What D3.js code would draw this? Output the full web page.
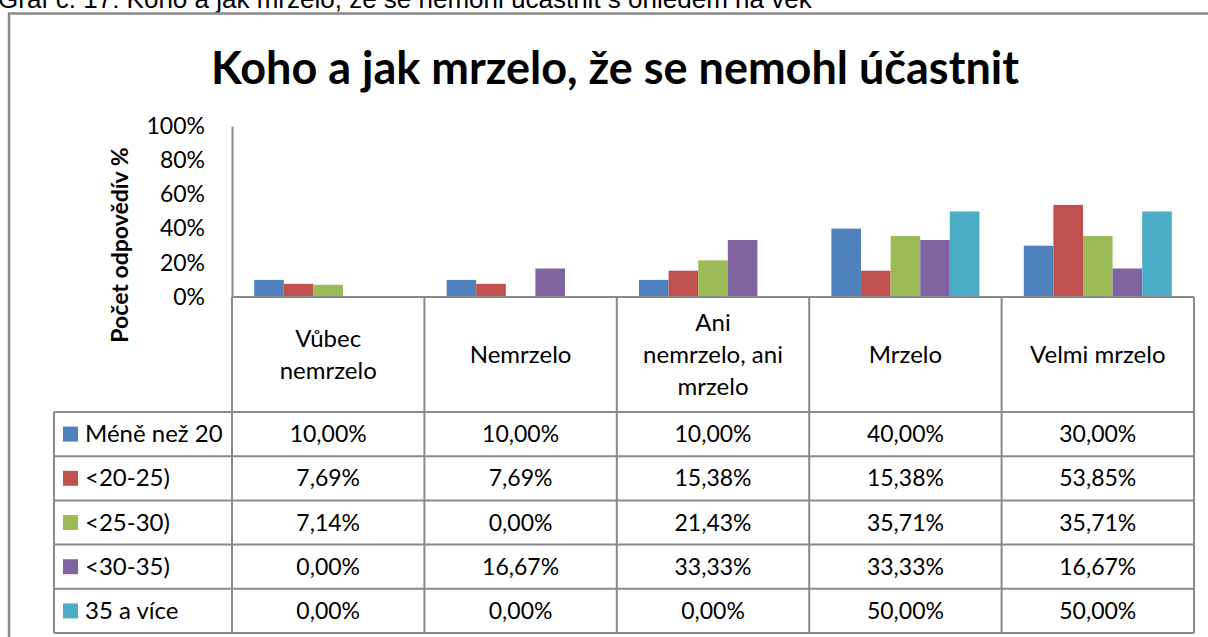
<!DOCTYPE html>
<html>
<head>
<meta charset="utf-8">
<script src="https://cdn.jsdelivr.net/npm/d3@7"></script>
<style>
  html, body { margin: 0; padding: 0; background: #fff; overflow: hidden; }
  svg { display: block; }
  .cal { font-family: Lato, "Open Sans", sans-serif; fill: #000; }
</style>
</head>
<body>
<div id="chart"></div>
<script>
// Data.
var categories = [['Vůbec', 'nemrzelo'], ['Nemrzelo'], ['Ani', 'nemrzelo, ani', 'mrzelo'], ['Mrzelo'], ['Velmi mrzelo']];
var seriesNames = ['Méně než 20', '<20-25)', '<25-30)', '<30-35)', '35 a více'];
var seriesColors = ['#4F81BD', '#C0504D', '#9BBB59', '#8064A2', '#4BACC6'];
var valMene20 = [10.00, 10.00, 10.00, 40.00, 30.00];
var val20_25 = [7.69, 7.69, 15.38, 15.38, 53.85];
var val25_30 = [7.14, 0.00, 21.43, 35.71, 35.71];
var val30_35 = [0.00, 16.67, 33.33, 33.33, 16.67];
var val35plus = [0.00, 0.00, 0.00, 50.00, 50.00];
var yTicks = [0, 20, 40, 60, 80, 100];

var values = [valMene20, val20_25, val25_30, val30_35, val35plus];

var width = 1208, height = 637;
var lineColor = '#8a8a8a';

var svg = d3.select('#chart').append('svg')
    .attr('width', width)
    .attr('height', height);

// Caption above the chart (cut off at the top of the picture).
svg.append('text')
    .attr('x', -2)
    .attr('y', 8)
    .style('font-family', '"Liberation Sans", Arial, sans-serif')
    .style('font-size', '26px')
    .attr('fill', '#000')
    .text('Graf č. 17: Koho a jak mrzelo, že se nemohl účastnit s ohledem na věk');

// Outer chart frame (continues past right and bottom edges).
svg.append('path')
    .attr('d', 'M9,' + (height + 5) + 'V13.5H' + (width + 5))
    .attr('fill', 'none')
    .attr('stroke', lineColor)
    .attr('stroke-width', 2.5);

// Title.
svg.append('text')
    .attr('class', 'cal')
    .attr('x', 615)
    .attr('y', 84)
    .attr('text-anchor', 'middle')
    .style('font-size', '45px')
    .style('font-weight', 'bold')
    .text('Koho a jak mrzelo, že se nemohl účastnit');

// Scales.
var x = d3.scaleBand()
    .domain(d3.range(categories.length))
    .range([232, 1194]);

var x1 = d3.scaleBand()
    .domain(d3.range(seriesNames.length))
    .range([0, x.bandwidth()])
    .paddingOuter(0.75);

var y = d3.scaleLinear()
    .domain([0, 100])
    .range([297, 126]);

// Bars.
var groups = svg.append('g').selectAll('g')
    .data(values)
    .enter()
    .append('g')
    .attr('fill', function(d, i) { return seriesColors[i]; });

groups.each(function(vals, si) {
    d3.select(this).selectAll('rect')
        .data(vals)
        .enter()
        .append('rect')
        .attr('x', function(v, ci) { return x(ci) + x1(si); })
        .attr('width', x1.bandwidth())
        .attr('y', function(v) { return y(v); })
        .attr('height', function(v) { return y(0) - y(v); });
});

// Y axis.
var yAxis = svg.append('g')
    .attr('transform', 'translate(232,0)')
    .call(d3.axisLeft(y)
        .tickValues(yTicks)
        .tickSize(0)
        .tickPadding(27)
        .tickFormat(function(d) { return d + '%'; }));
yAxis.select('.domain').attr('stroke', lineColor).attr('stroke-width', 2);
yAxis.selectAll('text')
    .attr('class', 'cal')
    .style('font-size', '23px');

// Y axis title.
svg.append('text')
    .attr('class', 'cal')
    .attr('transform', 'translate(128,245) rotate(-90)')
    .attr('text-anchor', 'middle')
    .style('font-size', '23px')
    .style('font-weight', 'bold')
    .text('Počet odpovědív %');

// Data table.
var tableTop = 412, tableBottom = 633, tableLeft = 54;
var rowH = (tableBottom - tableTop) / seriesNames.length;
var grid = svg.append('g')
    .attr('stroke', lineColor)
    .attr('stroke-width', 2)
    .attr('fill', 'none');

// Horizontal axis line and table rows.
grid.append('line')
    .attr('x1', 232).attr('x2', 1194)
    .attr('y1', y(0)).attr('y2', y(0));
d3.range(seriesNames.length + 1).forEach(function(r) {
    grid.append('line')
        .attr('x1', tableLeft).attr('x2', 1194)
        .attr('y1', tableTop + r * rowH).attr('y2', tableTop + r * rowH);
});
// Vertical lines.
grid.append('line')
    .attr('x1', tableLeft).attr('x2', tableLeft)
    .attr('y1', tableTop).attr('y2', tableBottom);
d3.range(categories.length + 1).forEach(function(c) {
    var xx = c < categories.length ? x(c) : x.range()[1];
    grid.append('line')
        .attr('x1', xx).attr('x2', xx)
        .attr('y1', y(0)).attr('y2', tableBottom);
});

// Category labels.
var lineH = 32;
categories.forEach(function(lines, ci) {
    var cy = 355 - (lines.length - 1) * lineH / 2;
    var t = svg.append('text')
        .attr('class', 'cal')
        .attr('text-anchor', 'middle')
        .style('font-size', '24px');
    lines.forEach(function(s, li) {
        t.append('tspan')
            .attr('x', x(ci) + x.bandwidth() / 2)
            .attr('y', cy + li * lineH + 8)
            .text(s);
    });
});

// Legend keys and cell values.
var fmt = function(v) { return v.toFixed(2).replace('.', ',') + '%'; };
seriesNames.forEach(function(name, si) {
    var cy = tableTop + si * rowH + rowH / 2;
    svg.append('rect')
        .attr('x', 63)
        .attr('y', cy - 7.5)
        .attr('width', 15)
        .attr('height', 15)
        .attr('fill', seriesColors[si]);
    svg.append('text')
        .attr('class', 'cal')
        .attr('x', 85)
        .attr('y', cy + 8)
        .style('font-size', '24px')
        .text(name);
    values[si].forEach(function(v, ci) {
        svg.append('text')
            .attr('class', 'cal')
            .attr('x', x(ci) + x.bandwidth() / 2)
            .attr('y', cy + 8)
            .attr('text-anchor', 'middle')
            .style('font-size', '23px')
            .text(fmt(v));
    });
});
</script>
</body>
</html>
